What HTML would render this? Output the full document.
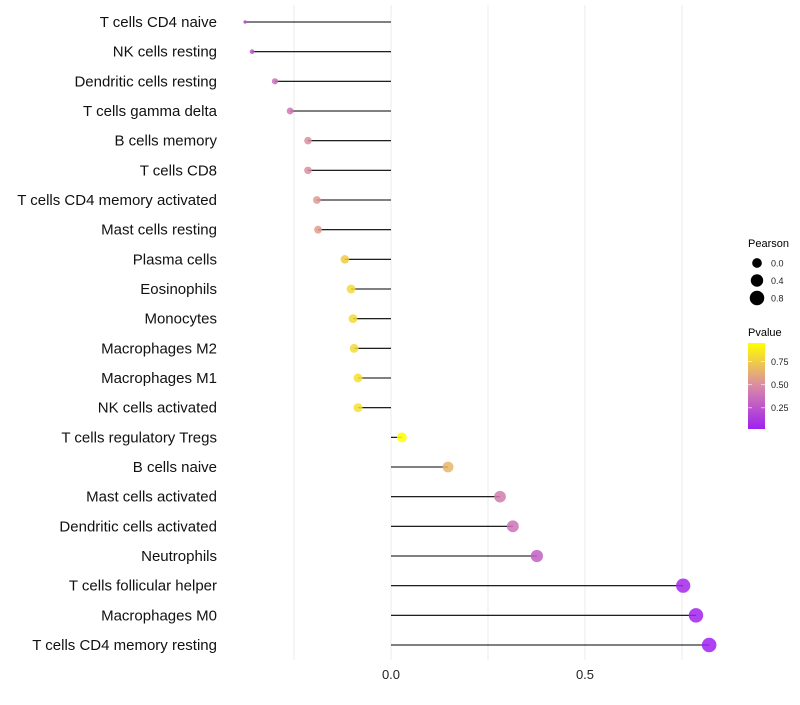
<!DOCTYPE html>
<html><head><meta charset="utf-8"><style>
body{margin:0;background:#fff;}
svg text{font-family:"Liberation Sans",sans-serif;}
</style></head><body>
<svg id="chart" width="800" height="700" xmlns="http://www.w3.org/2000/svg">
<defs><linearGradient id="pg" x1="0" y1="1" x2="0" y2="0">
<stop offset="0" stop-color="#a020f0"/><stop offset="0.5" stop-color="#d98aa6"/><stop offset="1" stop-color="#ffff00"/>
</linearGradient></defs>
<g id="grid"></g><g id="marks"></g><g id="labels"></g>
<g>
<text x="748" y="247" font-size="11">Pearson</text>
<g id="sizeleg"></g>
<text x="748" y="336" font-size="11">Pvalue</text>
<rect x="748" y="343" width="17" height="86" fill="url(#pg)"/>
<g id="cbticks"></g>
</g>
</svg>
<script>
const categories=["T cells CD4 naive","NK cells resting","Dendritic cells resting","T cells gamma delta","B cells memory","T cells CD8","T cells CD4 memory activated","Mast cells resting","Plasma cells","Eosinophils","Monocytes","Macrophages M2","Macrophages M1","NK cells activated","T cells regulatory  Tregs","B cells naive","Mast cells activated","Dendritic cells activated","Neutrophils","T cells follicular helper","Macrophages M0","T cells CD4 memory resting"];
const pearson=[-0.376,-0.358,-0.299,-0.260,-0.214,-0.214,-0.191,-0.188,-0.119,-0.103,-0.098,-0.095,-0.085,-0.085,0.028,0.147,0.281,0.314,0.376,0.753,0.786,0.820];
const pvalue=[0.2,0.26,0.36,0.4,0.5,0.5,0.55,0.56,0.75,0.8,0.8,0.8,0.83,0.83,0.95,0.66,0.42,0.38,0.3,0.05,0.03,0.01];
const xTicks=[0,0.5];
const xTickLabels=["0.0","0.5"];
const gridVals=[-0.25,0,0.25,0.5,0.75];
const sizeLegend=[0.0,0.4,0.8];
const cbTicks=[0.25,0.5,0.75];
const NS="http://www.w3.org/2000/svg";
const x=v=>391+v*388;
const y=i=>22+i*(645-22)/(categories.length-1);
const pmin=0.02,pmax=0.95;
const cy=p=>429-(p-pmin)/(pmax-pmin)*86;
const rmin=Math.min(...pearson),rmax=Math.max(...pearson);
const rad=v=>{const t=Math.max(0,(v-rmin)/(rmax-rmin));return 1.7+5.6*Math.sqrt(t);};
function lerp(a,b,t){return a.map((c,i)=>Math.round(c+(b[i]-c)*t));}
function col(p){const t=Math.min(1,Math.max(0,(p-pmin)/(pmax-pmin)));const A=[160,32,240],M=[217,138,166],B=[255,255,0];const c=t<0.5?lerp(A,M,t*2):lerp(M,B,(t-0.5)*2);return `rgb(${c})`;}
function mk(t,a,parent){const e=document.createElementNS(NS,t);for(const k in a)e.setAttribute(k,a[k]);parent.appendChild(e);return e;}
const grid=document.getElementById('grid'),marks=document.getElementById('marks'),labels=document.getElementById('labels');
gridVals.forEach(g=>{const l=mk('line',{x1:x(g),x2:x(g),y1:5,y2:660,stroke:'#ebebeb','stroke-width':1},grid);

});
xTicks.forEach((v,i)=>{const t=mk('text',{x:x(v),y:679,'font-size':13,'text-anchor':'middle',fill:'#222'},labels);t.textContent=xTickLabels[i];

});
categories.forEach((c,i)=>{
const l=mk('line',{x1:x(0),x2:x(pearson[i]),y1:y(i),y2:y(i),stroke:'#000','stroke-width':1.1},marks);


const d=mk('circle',{cx:x(pearson[i]),cy:y(i),r:rad(pearson[i]),fill:col(pvalue[i]),'fill-opacity':0.85},marks);


const t=mk('text',{x:217,y:y(i)+5,'font-size':15,'text-anchor':'end',fill:'#111'},labels);t.textContent=c;

});
const sl=document.getElementById('sizeleg');
sizeLegend.forEach((v,i)=>{const yy=263+i*17.5;
const d=mk('circle',{cx:757,cy:yy,r:rad(v),fill:'#000'},sl);


const t=mk('text',{x:771,y:yy+3.5,'font-size':9,fill:'#222'},sl);t.textContent=v.toFixed(1);

});
const cb=document.getElementById('cbticks');
cbTicks.forEach(v=>{const yy=cy(v);
mk('line',{x1:748,x2:752,y1:yy,y2:yy,stroke:'#fff','stroke-opacity':0.6},cb);
mk('line',{x1:761,x2:765,y1:yy,y2:yy,stroke:'#fff','stroke-opacity':0.6},cb);
const t=mk('text',{x:771,y:yy+3.5,'font-size':9,fill:'#222'},cb);t.textContent=v.toFixed(2);

});
</script>
</body></html>
